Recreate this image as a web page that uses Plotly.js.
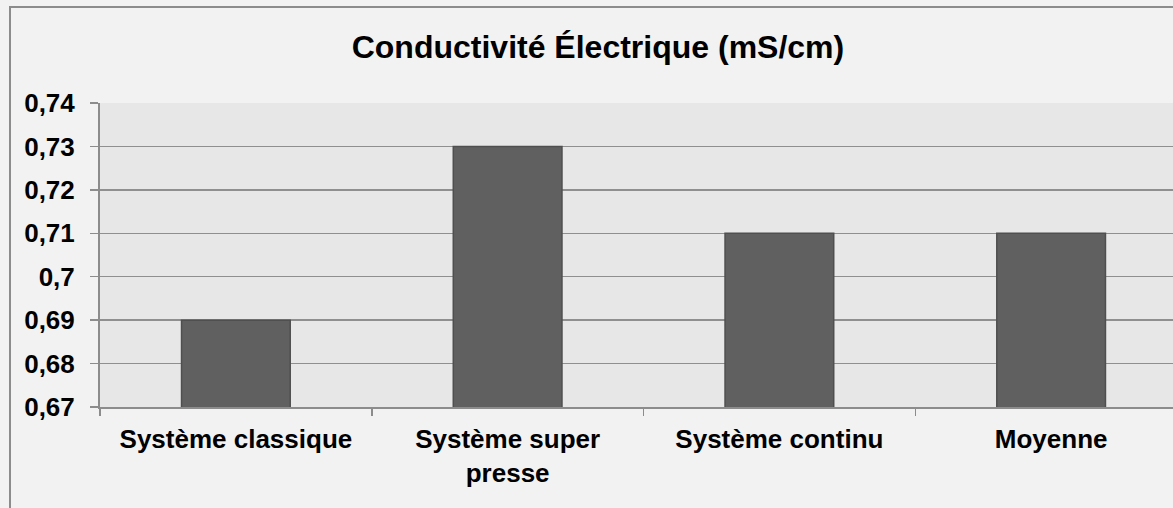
<!DOCTYPE html>
<html>
<head>
<meta charset="utf-8">
<script src="https://cdn.plot.ly/plotly-3.0.1.min.js"></script>
<style>
  html, body { margin: 0; padding: 0; background: #f2f2f2; overflow: hidden; width: 1173px; height: 508px; }
  #chart { position: absolute; left: 0; top: 0; width: 1200px; height: 508px; }
  #frame { position: absolute; left: 9px; top: 6px; width: 1200px; height: 540px; border: 2px solid #8c8c8c; pointer-events: none; z-index: 5; }
</style>
</head>
<body>
<div id="chart"></div>
<div id="frame"></div>
<script>
const categories = ['Système classique', 'Système super presse', 'Système continu', 'Moyenne'];
const xTickText = ['Système classique', 'Système super<br>presse', 'Système continu', 'Moyenne'];
const values = [0.69, 0.73, 0.71, 0.71];
const yTickVals = [0.67, 0.68, 0.69, 0.70, 0.71, 0.72, 0.73, 0.74];
const yTickText = ['0,67', '0,68', '0,69', '0,7', '0,71', '0,72', '0,73', '0,74'];
const chartTitle = 'Conductivité Électrique (mS/cm)';

const FONT = 'Arial, "Liberation Sans", sans-serif';

const trace = {
  type: 'bar',
  x: categories,
  y: values,
  marker: { color: '#606060', line: { color: '#4f4f4f', width: 1.5 } },
  hoverinfo: 'x+y'
};

const layout = {
  width: 1200,
  height: 508,
  paper_bgcolor: 'rgba(0,0,0,0)',
  plot_bgcolor: '#e7e7e7',
  margin: { l: 100, r: 13, t: 103, b: 101, pad: 0 },
  bargap: 0.6,
  showlegend: false,
  title: {
    text: chartTitle,
    font: { family: FONT, size: 32, color: '#000000', weight: 'bold' },
    xref: 'container', x: 0.4983,
    yref: 'container', y: 1 - 47 / 508, yanchor: 'middle', xanchor: 'center'
  },
  xaxis: {
    type: 'category',
    tickmode: 'array',
    tickvals: categories,
    ticktext: xTickText,
    tickson: 'boundaries',
    ticks: 'outside',
    ticklen: 7,
    tickwidth: 1.5,
    tickcolor: '#8c8c8c',
    showgrid: false,
    showline: true,
    linecolor: '#8c8c8c',
    linewidth: 2,
    ticklabelstandoff: 8,
    tickfont: { family: FONT, size: 26, color: '#000000', weight: 'bold' },
    fixedrange: true
  },
  yaxis: {
    range: [0.67, 0.74],
    tickmode: 'array',
    tickvals: yTickVals,
    ticktext: yTickText,
    ticks: 'outside',
    ticklen: 8,
    tickwidth: 1.5,
    tickcolor: '#8c8c8c',
    showgrid: true,
    gridcolor: '#8f8f8f',
    gridwidth: 1.5,
    zeroline: false,
    showline: true,
    linecolor: '#8c8c8c',
    linewidth: 2,
    ticklabelstandoff: 10,
    tickfont: { family: FONT, size: 26, color: '#000000', weight: 'bold' },
    fixedrange: true
  }
};

Plotly.newPlot('chart', [trace], layout, { displayModeBar: false, staticPlot: true });
</script>
</body>
</html>
